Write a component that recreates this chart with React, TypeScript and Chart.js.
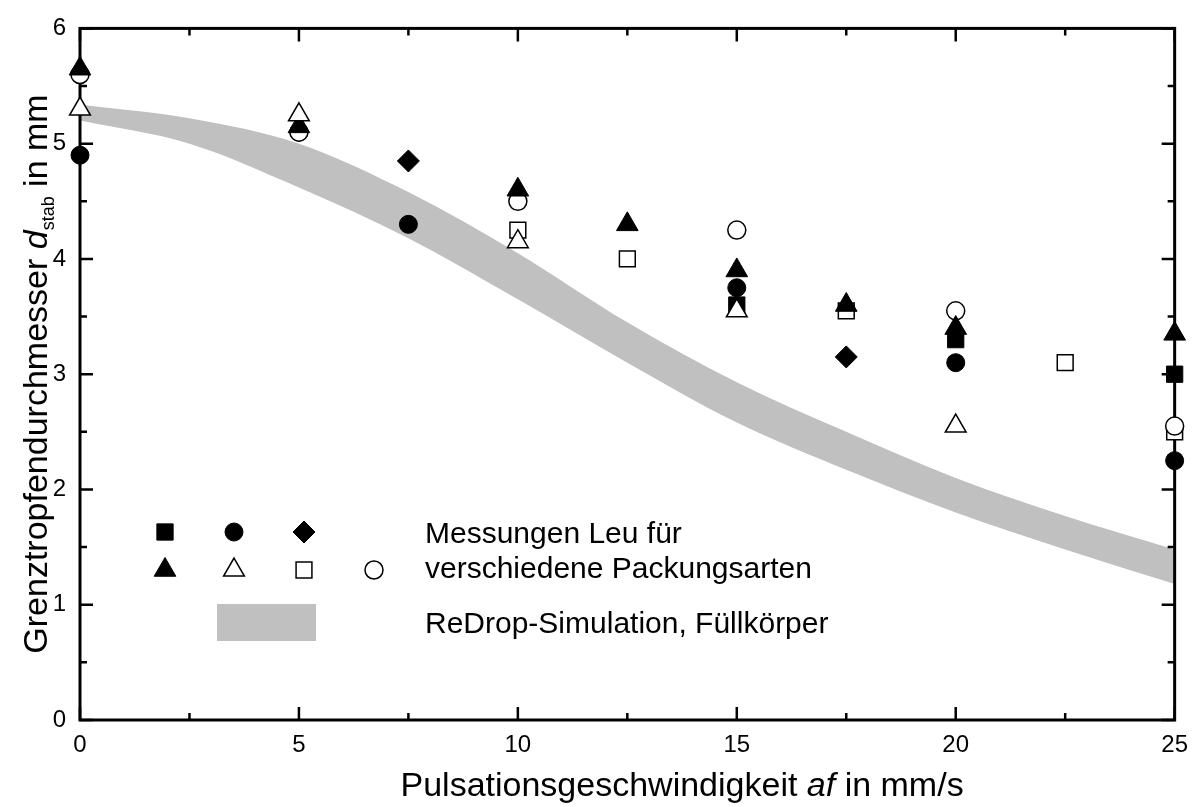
import React, { useEffect, useRef } from "react";
import { Chart, registerables } from "chart.js";

Chart.register(...registerables);

const FONT = "'Liberation Sans', Arial, Helvetica, sans-serif";

// Messungen Leu (verschiedene Packungsarten)
const filledSquareX = [15, 20, 25];
const filledSquareY = [3.6, 3.3, 3.0];
const filledCircleX = [0, 5, 7.5, 15, 20, 25];
const filledCircleY = [4.9, 5.1, 4.3, 3.75, 3.1, 2.25];
const filledDiamondX = [7.5, 17.5];
const filledDiamondY = [4.85, 3.15];
const filledTriangleX = [0, 5, 10, 12.5, 15, 17.5, 20, 25];
const filledTriangleY = [5.65, 5.15, 4.6, 4.3, 3.9, 3.6, 3.4, 3.35];
const openTriangleX = [0, 5, 10, 15, 20];
const openTriangleY = [5.3, 5.25, 4.15, 3.55, 2.55];
const openSquareX = [10, 12.5, 17.5, 22.5, 25];
const openSquareY = [4.25, 4.0, 3.55, 3.1, 2.5];
const openCircleX = [0, 5, 10, 15, 20, 25];
const openCircleY = [5.6, 5.1, 4.5, 4.25, 3.55, 2.55];

// ReDrop-Simulation, Füllkörper (band)
const bandX = [0, 2.5, 5, 7.5, 10, 12.5, 15, 17.5, 20, 22.5, 25];
const bandUpperY = [5.34, 5.22, 5.0, 4.58, 4.05, 3.45, 2.93, 2.5, 2.1, 1.77, 1.48];
const bandLowerY = [5.2, 5.0, 4.62, 4.18, 3.65, 3.1, 2.58, 2.17, 1.8, 1.48, 1.18];

// Ticks
const xMajorTicks = [0, 5, 10, 15, 20, 25];
const xMinorTicks = [2.5, 7.5, 12.5, 17.5, 22.5];
const yMajorTicks = [0, 1, 2, 3, 4, 5, 6];
const yMinorTicks = [0.5, 1.5, 2.5, 3.5, 4.5, 5.5];

// Texts
const legendLine1 = "Messungen Leu für";
const legendLine2 = "verschiedene Packungsarten";
const legendLine3 = "ReDrop-Simulation, Füllkörper";
const xTitleParts = [
  { t: "Pulsationsgeschwindigkeit ", italic: false },
  { t: "af", italic: true },
  { t: " in mm/s", italic: false },
];

const pts = (xs: number[], ys: number[]) => xs.map((x, i) => ({ x, y: ys[i] }));

function markerSet(label: string, xs: number[], ys: number[], style: string, radius: number, filled: boolean, bw: number) {
  return {
    type: "scatter" as const,
    label,
    data: pts(xs, ys),
    pointStyle: style,
    pointRadius: radius,
    pointHoverRadius: radius,
    pointBackgroundColor: filled ? "#000" : "#fff",
    pointBorderColor: "#000",
    pointBorderWidth: bw,
    showLine: false,
    clip: false as any,
  };
}

function drawMarker(ctx: CanvasRenderingContext2D, style: string, x: number, y: number, r: number, filled: boolean, bw: number) {
  ctx.save();
  ctx.beginPath();
  if (style === "circle") {
    ctx.arc(x, y, r, 0, Math.PI * 2);
  } else if (style === "rect") {
    const s = Math.SQRT1_2 * r;
    ctx.rect(x - s, y - s, 2 * s, 2 * s);
  } else if (style === "triangle") {
    let rad = 0;
    ctx.moveTo(x + Math.sin(rad) * r, y - Math.cos(rad) * r);
    rad += (2 * Math.PI) / 3;
    ctx.lineTo(x + Math.sin(rad) * r, y - Math.cos(rad) * r);
    rad += (2 * Math.PI) / 3;
    ctx.lineTo(x + Math.sin(rad) * r, y - Math.cos(rad) * r);
    ctx.closePath();
  } else if (style === "rectRot") {
    ctx.moveTo(x - r, y);
    ctx.lineTo(x, y - r);
    ctx.lineTo(x + r, y);
    ctx.lineTo(x, y + r);
    ctx.closePath();
  }
  ctx.fillStyle = filled ? "#000" : "#fff";
  ctx.fill();
  ctx.lineWidth = bw;
  ctx.strokeStyle = "#000";
  ctx.stroke();
  ctx.restore();
}

const framePlugin = {
  id: "frameTicks",
  beforeDatasetsDraw(chart: any) {
    const { ctx, chartArea: a, scales } = chart;
    const xs = scales.x;
    const ys = scales.y;
    ctx.save();
    ctx.strokeStyle = "#000";
    ctx.lineWidth = 2.5;
    ctx.beginPath();
    const xt = (v: number, len: number) => {
      const p = xs.getPixelForValue(v);
      ctx.moveTo(p, a.bottom);
      ctx.lineTo(p, a.bottom - len);
      ctx.moveTo(p, a.top);
      ctx.lineTo(p, a.top + len);
    };
    const yt = (v: number, len: number) => {
      const p = ys.getPixelForValue(v);
      ctx.moveTo(a.left, p);
      ctx.lineTo(a.left + len, p);
      ctx.moveTo(a.right, p);
      ctx.lineTo(a.right - len, p);
    };
    xMajorTicks.forEach((v) => xt(v, 13));
    xMinorTicks.forEach((v) => xt(v, 7));
    yMajorTicks.forEach((v) => yt(v, 13));
    yMinorTicks.forEach((v) => yt(v, 7));
    ctx.stroke();
    ctx.lineWidth = 3;
    ctx.strokeRect(a.left, a.top, a.right - a.left, a.bottom - a.top);
    ctx.restore();
  },
  afterDraw(chart: any) {
    const { ctx, chartArea: a } = chart;
    ctx.save();
    ctx.fillStyle = "#000";

    // Legend markers
    const cols = [165, 234, 304, 374];
    const row1 = 532;
    const row2 = 570;
    drawMarker(ctx, "rect", cols[0], row1, 11.5, true, 1);
    drawMarker(ctx, "circle", cols[1], row1, 9, true, 1);
    drawMarker(ctx, "rectRot", cols[2], row1, 11, true, 1);
    drawMarker(ctx, "triangle", cols[0], row2, 12.5, true, 1);
    drawMarker(ctx, "triangle", cols[1], row2, 12, false, 1.5);
    drawMarker(ctx, "rect", cols[2], row2, 11.2, false, 1.5);
    drawMarker(ctx, "circle", cols[3], row2, 9, false, 1.5);
    ctx.fillStyle = "#c0c0c0";
    ctx.fillRect(217, 604, 99, 37);

    // Legend texts
    ctx.fillStyle = "#000";
    ctx.font = `30px ${FONT}`;
    ctx.textAlign = "left";
    ctx.textBaseline = "alphabetic";
    ctx.fillText(legendLine1, 425, 543);
    ctx.fillText(legendLine2, 425, 578);
    ctx.fillText(legendLine3, 425, 633);

    // X title
    const tsize = 34;
    const fonts = (it: boolean) => `${it ? "italic " : ""}${tsize}px ${FONT}`;
    let total = 0;
    xTitleParts.forEach((p) => {
      ctx.font = fonts(p.italic);
      total += ctx.measureText(p.t).width;
    });
    let x = a.left + (a.right - a.left) * 0.55 - total / 2;
    xTitleParts.forEach((p) => {
      ctx.font = fonts(p.italic);
      ctx.fillText(p.t, x, 796);
      x += ctx.measureText(p.t).width;
    });

    // Y title
    ctx.translate(47, 374);
    ctx.rotate(-Math.PI / 2);
    const parts = [
      { t: "Grenztropfendurchmesser ", f: `${tsize}px ${FONT}`, dy: 0 },
      { t: "d", f: `italic ${tsize}px ${FONT}`, dy: 0 },
      { t: "stab", f: `18px ${FONT}`, dy: 7 },
      { t: " in mm", f: `${tsize}px ${FONT}`, dy: 0 },
    ];
    let w = 0;
    parts.forEach((p) => {
      ctx.font = p.f;
      w += ctx.measureText(p.t).width;
    });
    let px = -w / 2;
    parts.forEach((p) => {
      ctx.font = p.f;
      ctx.fillText(p.t, px, p.dy);
      px += ctx.measureText(p.t).width;
    });
    ctx.restore();
  },
};

export default function App() {
  const ref = useRef<HTMLCanvasElement | null>(null);

  useEffect(() => {
    if (!ref.current) return;
    const chart = new Chart(ref.current, {
      type: "scatter",
      data: {
        datasets: [
          markerSet("openTriangle", openTriangleX, openTriangleY, "triangle", 12, false, 1.5),
          markerSet("filledDiamond", filledDiamondX, filledDiamondY, "rectRot", 11, true, 1),
          markerSet("filledTriangle", filledTriangleX, filledTriangleY, "triangle", 12.5, true, 1),
          markerSet("openCircle", openCircleX, openCircleY, "circle", 9, false, 1.5),
          markerSet("openSquare", openSquareX, openSquareY, "rect", 11.2, false, 1.5),
          markerSet("filledCircle", filledCircleX, filledCircleY, "circle", 9, true, 1),
          markerSet("filledSquare", filledSquareX, filledSquareY, "rect", 11.5, true, 1),
          {
            type: "line" as const,
            label: "bandUpper",
            data: pts(bandX, bandUpperY),
            borderWidth: 0,
            borderColor: "rgba(0,0,0,0)",
            backgroundColor: "#c0c0c0",
            pointRadius: 0,
            fill: "+1",
            cubicInterpolationMode: "monotone" as const,
          },
          {
            type: "line" as const,
            label: "bandLower",
            data: pts(bandX, bandLowerY),
            borderWidth: 0,
            borderColor: "rgba(0,0,0,0)",
            backgroundColor: "#c0c0c0",
            pointRadius: 0,
            fill: false,
            cubicInterpolationMode: "monotone" as const,
          },
        ] as any,
      },
      options: {
        animation: false,
        responsive: false,
        devicePixelRatio: 1,
        events: [],
        layout: { padding: { top: 19, right: 21, left: 0, bottom: 0 } },
        plugins: {
          legend: { display: false },
          tooltip: { enabled: false },
          filler: { drawTime: "beforeDatasetsDraw" },
        } as any,
        scales: {
          x: {
            type: "linear",
            min: 0,
            max: 25,
            grid: { display: false, drawTicks: false, tickLength: 0 },
            border: { display: false },
            afterFit: (s: any) => {
              s.height = 87;
            },
            ticks: {
              stepSize: 5,
              padding: 11,
              color: "#000",
              font: { family: FONT, size: 24 },
            },
          },
          y: {
            type: "linear",
            min: 0,
            max: 6,
            grid: { display: false, drawTicks: false, tickLength: 0 },
            border: { display: false },
            afterFit: (s: any) => {
              s.width = 80;
            },
            ticks: {
              stepSize: 1,
              padding: 14,
              color: "#000",
              font: { family: FONT, size: 24 },
            },
          },
        },
      },
      plugins: [framePlugin],
    });
    return () => chart.destroy();
  }, []);

  return (
    <div style={{ position: "absolute", left: 0, top: 0, width: 1199, height: 807, background: "#fff" }}>
      <canvas ref={ref} width={1199} height={807} style={{ display: "block" }} />
    </div>
  );
}
